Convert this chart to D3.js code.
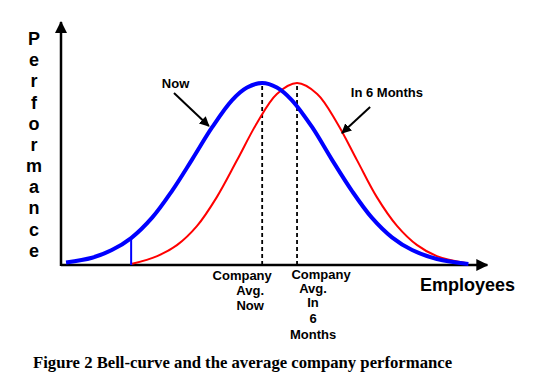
<!DOCTYPE html>
<html>
<head>
<meta charset="utf-8">
<script src="https://cdn.jsdelivr.net/npm/d3@7"></script>
<style>
  body { margin: 0; background: #fff; }
  svg { display: block; }
  .sans { font-family: "Liberation Sans", Arial, sans-serif; font-weight: bold; }
</style>
</head>
<body>
<div id="chart"></div>
<script>
// curve samples (x = employees 0..100, y = performance, peak = 100)
const nowX = [1.2, 7.4, 12.1, 16.7, 21.7, 26.4, 31.2, 36.0, 40.7, 44.3, 47.9, 51.4, 55.0, 59.8, 64.5, 69.3, 74.0, 78.8, 83.6, 89.5, 97.0];
const nowY = [1.4, 4.0, 8.2, 14.8, 26.0, 40.6, 57.9, 75.7, 90.5, 97.5, 100, 97.5, 90.5, 75.7, 57.9, 40.6, 26.0, 15.2, 8.2, 3.3, 0.6];
const laterX = [16.7, 22.9, 27.6, 32.4, 37.1, 41.9, 46.7, 51.4, 56.2, 61.0, 65.7, 70.5, 75.2, 80.0, 84.8, 89.5, 96.7];
const laterY = [0.5, 4.9, 10.9, 21.5, 37.3, 57.5, 78.2, 94.0, 100, 94.0, 78.2, 57.5, 37.3, 21.5, 10.9, 4.9, 1.0];

const cutX = 16.7;        // blue vertical line
const avgNow = 47.9;      // company avg now
const avgLater = 56.2;    // company avg in 6 months

const yLetters = "Performance".split("");
const nowLabel = ["Company", "Avg.", "Now"];
const laterLabel = ["Company", "Avg.", "In", "6", "Months"];

const W = 533, H = 387;
const svg = d3.select("#chart").append("svg")
  .attr("width", W).attr("height", H);

svg.append("rect").attr("width", W).attr("height", H).attr("fill", "#fff");

const x = d3.scaleLinear().domain([0, 100]).range([61, 481]);
const y = d3.scaleLinear().domain([0, 100]).range([265, 83]);

// arrow markers
const defs = svg.append("defs");
defs.append("marker")
  .attr("id", "head")
  .attr("viewBox", "0 0 12 12")
  .attr("refX", 11).attr("refY", 6)
  .attr("markerWidth", 12).attr("markerHeight", 12)
  .attr("markerUnits", "userSpaceOnUse")
  .attr("orient", "auto")
  .append("path").attr("d", "M0,0 L12,6 L0,12 Z").attr("fill", "#000");
defs.append("marker")
  .attr("id", "small")
  .attr("viewBox", "0 0 10 10")
  .attr("refX", 9).attr("refY", 5)
  .attr("markerWidth", 10).attr("markerHeight", 10)
  .attr("markerUnits", "userSpaceOnUse")
  .attr("orient", "auto")
  .append("path").attr("d", "M0,0 L10,5 L0,10 Z").attr("fill", "#000");

// axes
svg.append("line")
  .attr("x1", x(0)).attr("y1", y(0))
  .attr("x2", x(101.5)).attr("y2", y(0))
  .attr("stroke", "#000").attr("stroke-width", 2.5)
  .attr("marker-end", "url(#head)");
svg.append("line")
  .attr("x1", x(0)).attr("y1", y(0) + 1)
  .attr("x2", x(0)).attr("y2", y(133.5))
  .attr("stroke", "#000").attr("stroke-width", 2.5)
  .attr("marker-end", "url(#head)");

// dashed average lines
[avgNow, avgLater].forEach(v => {
  svg.append("line")
    .attr("x1", x(v)).attr("x2", x(v))
    .attr("y1", y(0)).attr("y2", y(100))
    .attr("stroke", "#000").attr("stroke-width", 1.8)
    .attr("stroke-dasharray", "4,3");
});

const line = d3.line()
  .x(d => x(d[0])).y(d => y(d[1]))
  .curve(d3.curveCatmullRom.alpha(0.5));

svg.append("path")
  .datum(d3.zip(laterX, laterY))
  .attr("d", line)
  .attr("fill", "none").attr("stroke", "#ff0000").attr("stroke-width", 2);

svg.append("path")
  .datum(d3.zip(nowX, nowY))
  .attr("d", line)
  .attr("fill", "none").attr("stroke", "#0000ff").attr("stroke-width", 4);

// blue cut line
svg.append("line")
  .attr("x1", x(cutX)).attr("x2", x(cutX))
  .attr("y1", y(0)).attr("y2", y(14.8))
  .attr("stroke", "#0000ff").attr("stroke-width", 2);

// y label, stacked letters
svg.append("g").selectAll("text")
  .data(yLetters).join("text")
  .attr("class", "sans")
  .attr("x", 34)
  .attr("y", (d, i) => 45 + i * 21.17)
  .attr("text-anchor", "middle")
  .attr("font-size", 18)
  .text(d => d);

// x label
svg.append("text").attr("class", "sans")
  .attr("x", 420).attr("y", 291)
  .attr("font-size", 18)
  .text("Employees");

// curve labels + arrows
svg.append("text").attr("class", "sans")
  .attr("x", x(24.0)).attr("y", y(97.3))
  .attr("font-size", 13).text("Now");
svg.append("line")
  .attr("x1", x(26.9)).attr("y1", y(94.5))
  .attr("x2", x(35.2)).attr("y2", y(76.4))
  .attr("stroke", "#000").attr("stroke-width", 2)
  .attr("marker-end", "url(#small)");

svg.append("text").attr("class", "sans")
  .attr("x", x(69.0)).attr("y", y(92.3))
  .attr("font-size", 13).text("In 6 Months");
svg.append("line")
  .attr("x1", x(73.6)).attr("y1", y(86.8))
  .attr("x2", x(66.9)).attr("y2", y(72.5))
  .attr("stroke", "#000").attr("stroke-width", 2)
  .attr("marker-end", "url(#small)");

// labels under the dashed lines
const nowDx = [-20, -12, -12];
const nowY0 = [280, 295, 310];
svg.append("g").selectAll("text")
  .data(nowLabel).join("text")
  .attr("class", "sans")
  .attr("x", (d, i) => x(avgNow) + nowDx[i])
  .attr("y", (d, i) => nowY0[i])
  .attr("text-anchor", "middle")
  .attr("font-size", 13)
  .text(d => d);

const laterDx = [24, 16, 16, 16, 16];
const laterY0 = [279, 293, 307, 323, 339];
svg.append("g").selectAll("text")
  .data(laterLabel).join("text")
  .attr("class", "sans")
  .attr("x", (d, i) => x(avgLater) + laterDx[i])
  .attr("y", (d, i) => laterY0[i])
  .attr("text-anchor", "middle")
  .attr("font-size", 13)
  .text(d => d);

// caption
svg.append("text")
  .attr("x", 33).attr("y", 368)
  .attr("font-family", "'Liberation Serif', 'Times New Roman', serif")
  .attr("font-weight", "bold")
  .attr("font-size", 16.7)
  .text("Figure 2 Bell-curve and the average company performance");
</script>
</body>
</html>
